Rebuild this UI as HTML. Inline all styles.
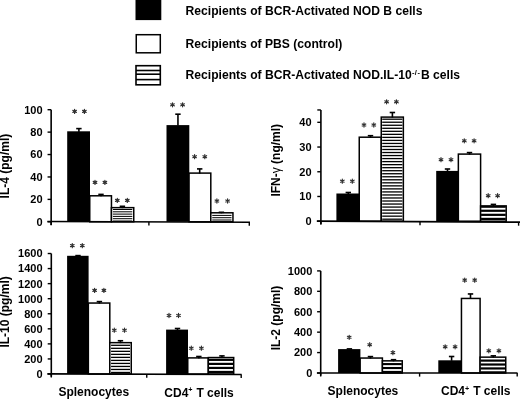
<!DOCTYPE html>
<html><head><meta charset="utf-8"><style>
html,body{margin:0;padding:0;background:#fff;}
svg{display:block;font-family:"Liberation Sans", sans-serif;will-change:transform;}
</style></head><body>
<svg width="520" height="399" viewBox="0 0 520 399">
<rect width="520" height="399" fill="#fff"/>
<rect x="135.50" y="0.00" width="25.80" height="20.10" fill="#000"/>
<rect x="136.25" y="34.7" width="24.05" height="18.1" fill="#fff" stroke="#000" stroke-width="1.5"/>
<rect x="136.0" y="65.7" width="24.3" height="19.1" fill="#fff" stroke="#000" stroke-width="1.6"/>
<line x1="136.0" y1="70.5" x2="160.3" y2="70.5" stroke="#000" stroke-width="1.6"/>
<line x1="136.0" y1="74.2" x2="160.3" y2="74.2" stroke="#000" stroke-width="1.6"/>
<line x1="136.0" y1="79.6" x2="160.3" y2="79.6" stroke="#000" stroke-width="1.6"/>
<g transform="translate(185.6,0.7) scale(1.01,1)">
<text x="0" y="14.1" font-size="12" font-weight="bold" text-anchor="start" >Recipients of BCR-Activated NOD B cells</text>
<text x="0" y="47.7" font-size="12" font-weight="bold" text-anchor="start" >Recipients of PBS (control)</text>
<text x="0" y="78.2" font-size="12" font-weight="bold" text-anchor="start" >Recipients of BCR-Activated NOD.IL-10<tspan font-size="7.4" letter-spacing="0.45" dx="0.3" dy="-3.9">-/-</tspan><tspan dx="-2.7" dy="3.9"> B cells</tspan></text>
</g>
<line x1="51.15" y1="109.70000000000002" x2="51.15" y2="225.3" stroke="#000" stroke-width="1.6"/>
<line x1="47.55" y1="109.70000000000002" x2="51.15" y2="109.70000000000002" stroke="#000" stroke-width="1.4"/>
<text x="42.6" y="113.60000000000002" font-size="11" font-weight="bold" text-anchor="end" >100</text>
<line x1="47.55" y1="132.12" x2="51.15" y2="132.12" stroke="#000" stroke-width="1.4"/>
<text x="42.6" y="136.02" font-size="11" font-weight="bold" text-anchor="end" >80</text>
<line x1="47.55" y1="154.54000000000002" x2="51.15" y2="154.54000000000002" stroke="#000" stroke-width="1.4"/>
<text x="42.6" y="158.44000000000003" font-size="11" font-weight="bold" text-anchor="end" >60</text>
<line x1="47.55" y1="176.96" x2="51.15" y2="176.96" stroke="#000" stroke-width="1.4"/>
<text x="42.6" y="180.86" font-size="11" font-weight="bold" text-anchor="end" >40</text>
<line x1="47.55" y1="199.38" x2="51.15" y2="199.38" stroke="#000" stroke-width="1.4"/>
<text x="42.6" y="203.28" font-size="11" font-weight="bold" text-anchor="end" >20</text>
<line x1="47.55" y1="221.8" x2="51.15" y2="221.8" stroke="#000" stroke-width="1.4"/>
<text x="42.6" y="225.70000000000002" font-size="11" font-weight="bold" text-anchor="end" >0</text>
<text transform="translate(9.3,166.1) rotate(-90)" font-size="12" font-weight="bold" text-anchor="middle">IL-4 (pg/ml)</text>
<rect x="67.20" y="131.30" width="22.80" height="90.50" fill="#000"/>
<rect x="78.10" y="128.60" width="1.60" height="3.30" fill="#000"/>
<rect x="76.20" y="127.80" width="5.40" height="1.60" fill="#000"/>
<rect x="89.75" y="195.80" width="21.70" height="26.00" fill="#fff" stroke="#000" stroke-width="1.5"/>
<rect x="100.20" y="194.40" width="1.60" height="1.90" fill="#000"/>
<rect x="98.30" y="193.60" width="5.40" height="1.60" fill="#000"/>
<rect x="111.45" y="207.65" width="22.30" height="14.15" fill="#fff" stroke="#000" stroke-width="1.5"/>
<rect x="112.90" y="209.00" width="19.40" height="1.00" fill="#000"/>
<rect x="112.90" y="211.30" width="19.40" height="1.00" fill="#000"/>
<rect x="112.90" y="213.60" width="19.40" height="1.00" fill="#000"/>
<rect x="112.90" y="215.90" width="19.40" height="1.00" fill="#000"/>
<rect x="112.90" y="218.20" width="19.40" height="1.00" fill="#000"/>
<rect x="112.90" y="220.50" width="19.40" height="1.00" fill="#000"/>
<rect x="121.60" y="206.30" width="1.60" height="1.85" fill="#000"/>
<rect x="119.70" y="205.50" width="5.40" height="1.60" fill="#000"/>
<rect x="166.50" y="125.10" width="22.80" height="96.70" fill="#000"/>
<rect x="177.15" y="114.20" width="1.60" height="11.40" fill="#000"/>
<rect x="175.25" y="113.40" width="5.40" height="1.60" fill="#000"/>
<rect x="189.05" y="173.10" width="21.75" height="48.70" fill="#fff" stroke="#000" stroke-width="1.5"/>
<rect x="198.90" y="168.90" width="1.60" height="4.70" fill="#000"/>
<rect x="197.00" y="168.10" width="5.40" height="1.60" fill="#000"/>
<rect x="210.80" y="212.80" width="22.15" height="9.00" fill="#fff" stroke="#000" stroke-width="1.5"/>
<rect x="212.25" y="214.90" width="19.25" height="1.00" fill="#000"/>
<rect x="212.25" y="217.20" width="19.25" height="1.00" fill="#000"/>
<rect x="212.25" y="219.50" width="19.25" height="1.00" fill="#000"/>
<rect x="220.60" y="212.30" width="1.60" height="1.00" fill="#000"/>
<rect x="218.70" y="211.50" width="5.40" height="1.60" fill="#000"/>
<path d="M74.60 109.35L74.60 113.45M72.82 110.38L76.38 112.43M72.82 112.43L76.38 110.38" stroke="#303030" stroke-width="1.2" stroke-linecap="round"/>
<path d="M84.40 109.35L84.40 113.45M82.62 110.38L86.18 112.43M82.62 112.43L86.18 110.38" stroke="#303030" stroke-width="1.2" stroke-linecap="round"/>
<path d="M95.00 180.35L95.00 184.45M93.22 181.38L96.78 183.43M93.22 183.43L96.78 181.38" stroke="#303030" stroke-width="1.2" stroke-linecap="round"/>
<path d="M104.90 180.35L104.90 184.45M103.12 181.38L106.68 183.43M103.12 183.43L106.68 181.38" stroke="#303030" stroke-width="1.2" stroke-linecap="round"/>
<path d="M117.30 198.35L117.30 202.45M115.52 199.38L119.08 201.43M115.52 201.43L119.08 199.38" stroke="#303030" stroke-width="1.2" stroke-linecap="round"/>
<path d="M127.30 198.35L127.30 202.45M125.52 199.38L129.08 201.43M125.52 201.43L129.08 199.38" stroke="#303030" stroke-width="1.2" stroke-linecap="round"/>
<path d="M172.50 102.75L172.50 106.85M170.72 103.77L174.28 105.83M170.72 105.83L174.28 103.77" stroke="#303030" stroke-width="1.2" stroke-linecap="round"/>
<path d="M182.60 102.75L182.60 106.85M180.82 103.77L184.38 105.83M180.82 105.83L184.38 103.77" stroke="#303030" stroke-width="1.2" stroke-linecap="round"/>
<path d="M194.60 154.65L194.60 158.75M192.82 155.67L196.38 157.72M192.82 157.72L196.38 155.67" stroke="#303030" stroke-width="1.2" stroke-linecap="round"/>
<path d="M204.80 154.65L204.80 158.75M203.02 155.67L206.58 157.72M203.02 157.72L206.58 155.67" stroke="#303030" stroke-width="1.2" stroke-linecap="round"/>
<path d="M216.90 198.95L216.90 203.05M215.12 199.97L218.68 202.03M215.12 202.03L218.68 199.97" stroke="#303030" stroke-width="1.2" stroke-linecap="round"/>
<path d="M227.60 198.95L227.60 203.05M225.82 199.97L229.38 202.03M225.82 202.03L229.38 199.97" stroke="#303030" stroke-width="1.2" stroke-linecap="round"/>
<line x1="47.4" y1="221.5" x2="250.0" y2="222.25" stroke="#000" stroke-width="1.7"/>
<line x1="51.15" y1="221.51388203356368" x2="51.15" y2="225.11388203356367" stroke="#000" stroke-width="1.4"/>
<line x1="148.9" y1="221.8757403751234" x2="148.9" y2="225.4757403751234" stroke="#000" stroke-width="1.4"/>
<line x1="249.3" y1="222.24740868706812" x2="249.3" y2="225.8474086870681" stroke="#000" stroke-width="1.4"/>
<line x1="320.9" y1="109.96" x2="320.9" y2="224.0" stroke="#000" stroke-width="1.6"/>
<line x1="317.29999999999995" y1="109.96" x2="320.9" y2="109.96" stroke="#000" stroke-width="1.4"/>
<line x1="317.29999999999995" y1="122.32" x2="320.9" y2="122.32" stroke="#000" stroke-width="1.4"/>
<text x="311.6" y="126.22" font-size="11" font-weight="bold" text-anchor="end" >40</text>
<line x1="317.29999999999995" y1="147.04" x2="320.9" y2="147.04" stroke="#000" stroke-width="1.4"/>
<text x="311.6" y="150.94" font-size="11" font-weight="bold" text-anchor="end" >30</text>
<line x1="317.29999999999995" y1="171.76" x2="320.9" y2="171.76" stroke="#000" stroke-width="1.4"/>
<text x="311.6" y="175.66" font-size="11" font-weight="bold" text-anchor="end" >20</text>
<line x1="317.29999999999995" y1="196.48" x2="320.9" y2="196.48" stroke="#000" stroke-width="1.4"/>
<text x="311.6" y="200.38" font-size="11" font-weight="bold" text-anchor="end" >10</text>
<line x1="317.29999999999995" y1="221.2" x2="320.9" y2="221.2" stroke="#000" stroke-width="1.4"/>
<text x="311.6" y="225.1" font-size="11" font-weight="bold" text-anchor="end" >0</text>
<text transform="translate(279.9,160.25) rotate(-90)" font-size="12" font-weight="bold" text-anchor="middle">IFN-<tspan font-weight="normal">γ</tspan> (ng/ml)</text>
<rect x="336.40" y="193.50" width="23.10" height="27.70" fill="#000"/>
<rect x="347.50" y="192.50" width="1.60" height="1.50" fill="#000"/>
<rect x="345.60" y="191.70" width="5.40" height="1.60" fill="#000"/>
<rect x="359.25" y="137.20" width="22.00" height="84.00" fill="#fff" stroke="#000" stroke-width="1.5"/>
<rect x="369.70" y="135.70" width="1.60" height="2.00" fill="#000"/>
<rect x="367.80" y="134.90" width="5.40" height="1.60" fill="#000"/>
<rect x="381.25" y="117.10" width="22.10" height="104.10" fill="#fff" stroke="#000" stroke-width="1.5"/>
<rect x="382.20" y="118.55" width="20.20" height="1.30" fill="#000"/>
<rect x="382.20" y="121.58" width="20.20" height="1.30" fill="#000"/>
<rect x="382.20" y="124.61" width="20.20" height="1.30" fill="#000"/>
<rect x="382.20" y="127.64" width="20.20" height="1.30" fill="#000"/>
<rect x="382.20" y="130.67" width="20.20" height="1.30" fill="#000"/>
<rect x="382.20" y="133.70" width="20.20" height="1.30" fill="#000"/>
<rect x="382.20" y="136.73" width="20.20" height="1.30" fill="#000"/>
<rect x="382.20" y="139.76" width="20.20" height="1.30" fill="#000"/>
<rect x="382.20" y="142.79" width="20.20" height="1.30" fill="#000"/>
<rect x="382.20" y="145.82" width="20.20" height="1.30" fill="#000"/>
<rect x="382.20" y="148.85" width="20.20" height="1.30" fill="#000"/>
<rect x="382.20" y="151.88" width="20.20" height="1.30" fill="#000"/>
<rect x="382.20" y="154.91" width="20.20" height="1.30" fill="#000"/>
<rect x="382.20" y="157.94" width="20.20" height="1.30" fill="#000"/>
<rect x="382.20" y="160.97" width="20.20" height="1.30" fill="#000"/>
<rect x="382.20" y="164.00" width="20.20" height="1.30" fill="#000"/>
<rect x="382.20" y="167.03" width="20.20" height="1.30" fill="#000"/>
<rect x="382.20" y="170.06" width="20.20" height="1.30" fill="#000"/>
<rect x="382.20" y="173.09" width="20.20" height="1.30" fill="#000"/>
<rect x="382.20" y="176.12" width="20.20" height="1.30" fill="#000"/>
<rect x="382.20" y="179.15" width="20.20" height="1.30" fill="#000"/>
<rect x="382.20" y="182.18" width="20.20" height="1.30" fill="#000"/>
<rect x="382.20" y="185.21" width="20.20" height="1.30" fill="#000"/>
<rect x="382.20" y="188.24" width="20.20" height="1.30" fill="#000"/>
<rect x="382.20" y="191.27" width="20.20" height="1.30" fill="#000"/>
<rect x="382.20" y="194.30" width="20.20" height="1.30" fill="#000"/>
<rect x="382.20" y="197.33" width="20.20" height="1.30" fill="#000"/>
<rect x="382.20" y="200.36" width="20.20" height="1.30" fill="#000"/>
<rect x="382.20" y="203.39" width="20.20" height="1.30" fill="#000"/>
<rect x="382.20" y="206.42" width="20.20" height="1.30" fill="#000"/>
<rect x="382.20" y="209.45" width="20.20" height="1.30" fill="#000"/>
<rect x="382.20" y="212.48" width="20.20" height="1.30" fill="#000"/>
<rect x="382.20" y="215.51" width="20.20" height="1.30" fill="#000"/>
<rect x="382.20" y="218.54" width="20.20" height="1.30" fill="#000"/>
<rect x="391.60" y="112.50" width="1.60" height="5.10" fill="#000"/>
<rect x="389.70" y="111.70" width="5.40" height="1.60" fill="#000"/>
<rect x="436.20" y="170.90" width="22.40" height="50.30" fill="#000"/>
<rect x="446.70" y="169.00" width="1.60" height="2.40" fill="#000"/>
<rect x="444.80" y="168.20" width="5.40" height="1.60" fill="#000"/>
<rect x="458.35" y="154.10" width="22.25" height="67.10" fill="#fff" stroke="#000" stroke-width="1.5"/>
<rect x="468.70" y="152.60" width="1.60" height="2.00" fill="#000"/>
<rect x="466.80" y="151.80" width="5.40" height="1.60" fill="#000"/>
<rect x="480.60" y="205.90" width="25.60" height="15.30" fill="#fff" stroke="#000" stroke-width="1.5"/>
<rect x="481.05" y="205.90" width="24.70" height="1.90" fill="#000"/>
<rect x="481.05" y="209.67" width="24.70" height="2.20" fill="#000"/>
<rect x="481.05" y="213.74" width="24.70" height="2.20" fill="#000"/>
<rect x="481.05" y="217.81" width="24.70" height="2.20" fill="#000"/>
<rect x="492.60" y="204.40" width="1.60" height="2.00" fill="#000"/>
<rect x="490.70" y="203.60" width="5.40" height="1.60" fill="#000"/>
<path d="M342.30 179.15L342.30 183.25M340.52 180.17L344.08 182.22M340.52 182.22L344.08 180.17" stroke="#303030" stroke-width="1.2" stroke-linecap="round"/>
<path d="M352.30 179.15L352.30 183.25M350.52 180.17L354.08 182.22M350.52 182.22L354.08 180.17" stroke="#303030" stroke-width="1.2" stroke-linecap="round"/>
<path d="M364.00 122.95L364.00 127.05M362.22 123.97L365.78 126.03M362.22 126.03L365.78 123.97" stroke="#303030" stroke-width="1.2" stroke-linecap="round"/>
<path d="M373.80 122.95L373.80 127.05M372.02 123.97L375.58 126.03M372.02 126.03L375.58 123.97" stroke="#303030" stroke-width="1.2" stroke-linecap="round"/>
<path d="M386.60 99.75L386.60 103.85M384.82 100.77L388.38 102.83M384.82 102.83L388.38 100.77" stroke="#303030" stroke-width="1.2" stroke-linecap="round"/>
<path d="M396.40 99.75L396.40 103.85M394.62 100.77L398.18 102.83M394.62 102.83L398.18 100.77" stroke="#303030" stroke-width="1.2" stroke-linecap="round"/>
<path d="M441.00 157.65L441.00 161.75M439.22 158.67L442.78 160.72M439.22 160.72L442.78 158.67" stroke="#303030" stroke-width="1.2" stroke-linecap="round"/>
<path d="M451.00 157.65L451.00 161.75M449.22 158.67L452.78 160.72M449.22 160.72L452.78 158.67" stroke="#303030" stroke-width="1.2" stroke-linecap="round"/>
<path d="M464.30 138.75L464.30 142.85M462.52 139.78L466.08 141.83M462.52 141.83L466.08 139.78" stroke="#303030" stroke-width="1.2" stroke-linecap="round"/>
<path d="M474.10 138.75L474.10 142.85M472.32 139.78L475.88 141.83M472.32 141.83L475.88 139.78" stroke="#303030" stroke-width="1.2" stroke-linecap="round"/>
<path d="M488.20 193.65L488.20 197.75M486.42 194.67L489.98 196.72M486.42 196.72L489.98 194.67" stroke="#303030" stroke-width="1.2" stroke-linecap="round"/>
<path d="M497.60 193.65L497.60 197.75M495.82 194.67L499.38 196.72M495.82 196.72L499.38 194.67" stroke="#303030" stroke-width="1.2" stroke-linecap="round"/>
<line x1="316.8" y1="221.2" x2="520.0" y2="222.1" stroke="#000" stroke-width="1.7"/>
<line x1="320.9" y1="221.21815944881888" x2="320.9" y2="224.81815944881888" stroke="#000" stroke-width="1.4"/>
<line x1="420.0" y1="221.6570866141732" x2="420.0" y2="225.2570866141732" stroke="#000" stroke-width="1.4"/>
<line x1="518.6" y1="222.0937992125984" x2="518.6" y2="225.6937992125984" stroke="#000" stroke-width="1.4"/>
<line x1="51.3" y1="253.51999999999998" x2="51.3" y2="376.6" stroke="#000" stroke-width="1.6"/>
<line x1="47.699999999999996" y1="253.51999999999998" x2="51.3" y2="253.51999999999998" stroke="#000" stroke-width="1.4"/>
<text x="42.6" y="257.41999999999996" font-size="11" font-weight="bold" text-anchor="end" >1600</text>
<line x1="47.699999999999996" y1="268.58" x2="51.3" y2="268.58" stroke="#000" stroke-width="1.4"/>
<text x="42.6" y="272.47999999999996" font-size="11" font-weight="bold" text-anchor="end" >1400</text>
<line x1="47.699999999999996" y1="283.64" x2="51.3" y2="283.64" stroke="#000" stroke-width="1.4"/>
<text x="42.6" y="287.53999999999996" font-size="11" font-weight="bold" text-anchor="end" >1200</text>
<line x1="47.699999999999996" y1="298.7" x2="51.3" y2="298.7" stroke="#000" stroke-width="1.4"/>
<text x="42.6" y="302.59999999999997" font-size="11" font-weight="bold" text-anchor="end" >1000</text>
<line x1="47.699999999999996" y1="313.76" x2="51.3" y2="313.76" stroke="#000" stroke-width="1.4"/>
<text x="42.6" y="317.65999999999997" font-size="11" font-weight="bold" text-anchor="end" >800</text>
<line x1="47.699999999999996" y1="328.82" x2="51.3" y2="328.82" stroke="#000" stroke-width="1.4"/>
<text x="42.6" y="332.71999999999997" font-size="11" font-weight="bold" text-anchor="end" >600</text>
<line x1="47.699999999999996" y1="343.88" x2="51.3" y2="343.88" stroke="#000" stroke-width="1.4"/>
<text x="42.6" y="347.78" font-size="11" font-weight="bold" text-anchor="end" >400</text>
<line x1="47.699999999999996" y1="358.94" x2="51.3" y2="358.94" stroke="#000" stroke-width="1.4"/>
<text x="42.6" y="362.84" font-size="11" font-weight="bold" text-anchor="end" >200</text>
<line x1="47.699999999999996" y1="374.0" x2="51.3" y2="374.0" stroke="#000" stroke-width="1.4"/>
<text x="42.6" y="377.9" font-size="11" font-weight="bold" text-anchor="end" >0</text>
<text transform="translate(8.9,311.9) rotate(-90)" font-size="12" font-weight="bold" text-anchor="middle">IL-10 (pg/ml)</text>
<rect x="67.10" y="255.80" width="21.50" height="118.20" fill="#000"/>
<rect x="75.30" y="254.80" width="5.40" height="1.60" fill="#000"/>
<rect x="88.35" y="303.05" width="21.45" height="70.95" fill="#fff" stroke="#000" stroke-width="1.5"/>
<rect x="98.60" y="301.60" width="1.60" height="1.95" fill="#000"/>
<rect x="96.70" y="300.80" width="5.40" height="1.60" fill="#000"/>
<rect x="109.80" y="342.65" width="21.45" height="31.35" fill="#fff" stroke="#000" stroke-width="1.5"/>
<rect x="111.05" y="344.65" width="18.95" height="1.30" fill="#000"/>
<rect x="111.05" y="347.67" width="18.95" height="1.30" fill="#000"/>
<rect x="111.05" y="350.69" width="18.95" height="1.30" fill="#000"/>
<rect x="111.05" y="353.71" width="18.95" height="1.30" fill="#000"/>
<rect x="111.05" y="356.73" width="18.95" height="1.30" fill="#000"/>
<rect x="111.05" y="359.75" width="18.95" height="1.30" fill="#000"/>
<rect x="111.05" y="362.77" width="18.95" height="1.30" fill="#000"/>
<rect x="111.05" y="365.79" width="18.95" height="1.30" fill="#000"/>
<rect x="111.05" y="368.81" width="18.95" height="1.30" fill="#000"/>
<rect x="111.05" y="371.83" width="18.95" height="1.30" fill="#000"/>
<rect x="119.65" y="340.75" width="1.60" height="2.40" fill="#000"/>
<rect x="117.75" y="339.95" width="5.40" height="1.60" fill="#000"/>
<rect x="166.10" y="329.60" width="21.90" height="44.40" fill="#000"/>
<rect x="176.70" y="328.50" width="1.60" height="1.60" fill="#000"/>
<rect x="174.80" y="327.70" width="5.40" height="1.60" fill="#000"/>
<rect x="187.75" y="357.90" width="20.55" height="16.10" fill="#fff" stroke="#000" stroke-width="1.5"/>
<rect x="198.05" y="356.50" width="1.60" height="1.90" fill="#000"/>
<rect x="196.15" y="355.70" width="5.40" height="1.60" fill="#000"/>
<rect x="208.30" y="357.55" width="25.40" height="16.45" fill="#fff" stroke="#000" stroke-width="1.5"/>
<rect x="208.75" y="358.75" width="24.50" height="2.20" fill="#000"/>
<rect x="208.75" y="362.79" width="24.50" height="2.20" fill="#000"/>
<rect x="208.75" y="366.83" width="24.50" height="2.20" fill="#000"/>
<rect x="208.75" y="370.87" width="24.50" height="2.20" fill="#000"/>
<rect x="221.15" y="355.90" width="1.60" height="2.15" fill="#000"/>
<rect x="219.25" y="355.10" width="5.40" height="1.60" fill="#000"/>
<path d="M72.30 243.55L72.30 247.65M70.52 244.57L74.08 246.62M70.52 246.62L74.08 244.57" stroke="#303030" stroke-width="1.2" stroke-linecap="round"/>
<path d="M82.30 243.55L82.30 247.65M80.52 244.57L84.08 246.62M80.52 246.62L84.08 244.57" stroke="#303030" stroke-width="1.2" stroke-linecap="round"/>
<path d="M94.60 288.35L94.60 292.45M92.82 289.38L96.38 291.42M92.82 291.42L96.38 289.38" stroke="#303030" stroke-width="1.2" stroke-linecap="round"/>
<path d="M103.90 288.35L103.90 292.45M102.12 289.38L105.68 291.42M102.12 291.42L105.68 289.38" stroke="#303030" stroke-width="1.2" stroke-linecap="round"/>
<path d="M114.30 328.15L114.30 332.25M112.52 329.18L116.08 331.22M112.52 331.22L116.08 329.18" stroke="#303030" stroke-width="1.2" stroke-linecap="round"/>
<path d="M124.50 328.15L124.50 332.25M122.72 329.18L126.28 331.22M122.72 331.22L126.28 329.18" stroke="#303030" stroke-width="1.2" stroke-linecap="round"/>
<path d="M169.00 313.45L169.00 317.55M167.22 314.48L170.78 316.52M167.22 316.52L170.78 314.48" stroke="#303030" stroke-width="1.2" stroke-linecap="round"/>
<path d="M178.50 313.45L178.50 317.55M176.72 314.48L180.28 316.52M176.72 316.52L180.28 314.48" stroke="#303030" stroke-width="1.2" stroke-linecap="round"/>
<path d="M191.30 346.15L191.30 350.25M189.52 347.18L193.08 349.22M189.52 349.22L193.08 347.18" stroke="#303030" stroke-width="1.2" stroke-linecap="round"/>
<path d="M201.40 346.15L201.40 350.25M199.62 347.18L203.18 349.22M199.62 349.22L203.18 347.18" stroke="#303030" stroke-width="1.2" stroke-linecap="round"/>
<line x1="47.4" y1="373.95" x2="241.6" y2="374.5" stroke="#000" stroke-width="1.7"/>
<line x1="51.3" y1="373.9610453141091" x2="51.3" y2="377.56104531410915" stroke="#000" stroke-width="1.4"/>
<line x1="146.75" y1="374.2313722966014" x2="146.75" y2="377.83137229660144" stroke="#000" stroke-width="1.4"/>
<line x1="241.2" y1="374.49886714727086" x2="241.2" y2="378.0988671472709" stroke="#000" stroke-width="1.4"/>
<text x="58.4" y="396.0" font-size="12" font-weight="bold" text-anchor="start" >Splenocytes</text>
<text x="164.3" y="396.6" font-size="12" font-weight="bold" text-anchor="start" >CD4<tspan font-size="7.2" dy="-4.2">+</tspan><tspan dx="0.6" dy="4.2"> T cells</tspan></text>
<line x1="320.7" y1="270.9" x2="320.7" y2="375.6" stroke="#000" stroke-width="1.6"/>
<line x1="317.09999999999997" y1="270.9" x2="320.7" y2="270.9" stroke="#000" stroke-width="1.4"/>
<text x="312.3" y="274.79999999999995" font-size="11" font-weight="bold" text-anchor="end" >1000</text>
<line x1="317.09999999999997" y1="291.32" x2="320.7" y2="291.32" stroke="#000" stroke-width="1.4"/>
<text x="312.3" y="295.21999999999997" font-size="11" font-weight="bold" text-anchor="end" >800</text>
<line x1="317.09999999999997" y1="311.74" x2="320.7" y2="311.74" stroke="#000" stroke-width="1.4"/>
<text x="312.3" y="315.64" font-size="11" font-weight="bold" text-anchor="end" >600</text>
<line x1="317.09999999999997" y1="332.15999999999997" x2="320.7" y2="332.15999999999997" stroke="#000" stroke-width="1.4"/>
<text x="312.3" y="336.05999999999995" font-size="11" font-weight="bold" text-anchor="end" >400</text>
<line x1="317.09999999999997" y1="352.58" x2="320.7" y2="352.58" stroke="#000" stroke-width="1.4"/>
<text x="312.3" y="356.47999999999996" font-size="11" font-weight="bold" text-anchor="end" >200</text>
<line x1="317.09999999999997" y1="373.0" x2="320.7" y2="373.0" stroke="#000" stroke-width="1.4"/>
<text x="312.3" y="376.9" font-size="11" font-weight="bold" text-anchor="end" >0</text>
<text transform="translate(280.1,318.0) rotate(-90)" font-size="12" font-weight="bold" text-anchor="middle">IL-2 (pg/ml)</text>
<rect x="338.10" y="349.10" width="22.30" height="23.90" fill="#000"/>
<rect x="346.70" y="348.10" width="5.40" height="1.60" fill="#000"/>
<rect x="360.15" y="358.05" width="22.25" height="14.95" fill="#fff" stroke="#000" stroke-width="1.5"/>
<rect x="369.65" y="356.60" width="1.60" height="1.95" fill="#000"/>
<rect x="367.75" y="355.80" width="5.40" height="1.60" fill="#000"/>
<rect x="382.40" y="360.85" width="19.85" height="12.15" fill="#fff" stroke="#000" stroke-width="1.5"/>
<rect x="382.85" y="363.05" width="18.95" height="2.10" fill="#000"/>
<rect x="382.85" y="366.98" width="18.95" height="2.10" fill="#000"/>
<rect x="382.85" y="370.91" width="18.95" height="2.09" fill="#000"/>
<rect x="392.70" y="359.70" width="1.60" height="1.65" fill="#000"/>
<rect x="390.80" y="358.90" width="5.40" height="1.60" fill="#000"/>
<rect x="438.30" y="360.30" width="23.40" height="12.70" fill="#000"/>
<rect x="450.80" y="356.50" width="1.60" height="4.30" fill="#000"/>
<rect x="448.90" y="355.70" width="5.40" height="1.60" fill="#000"/>
<rect x="461.45" y="298.45" width="18.65" height="74.55" fill="#fff" stroke="#000" stroke-width="1.5"/>
<rect x="469.70" y="293.95" width="1.60" height="5.00" fill="#000"/>
<rect x="467.80" y="293.15" width="5.40" height="1.60" fill="#000"/>
<rect x="480.10" y="357.15" width="25.65" height="15.85" fill="#fff" stroke="#000" stroke-width="1.5"/>
<rect x="480.55" y="359.50" width="24.75" height="2.20" fill="#000"/>
<rect x="480.55" y="363.42" width="24.75" height="2.20" fill="#000"/>
<rect x="480.55" y="367.34" width="24.75" height="2.20" fill="#000"/>
<rect x="480.55" y="371.26" width="24.75" height="1.74" fill="#000"/>
<rect x="492.50" y="355.85" width="1.60" height="1.80" fill="#000"/>
<rect x="490.60" y="355.05" width="5.40" height="1.60" fill="#000"/>
<path d="M349.20 335.25L349.20 339.35M347.42 336.28L350.98 338.32M347.42 338.32L350.98 336.28" stroke="#303030" stroke-width="1.2" stroke-linecap="round"/>
<path d="M369.70 342.65L369.70 346.75M367.92 343.68L371.48 345.72M367.92 345.72L371.48 343.68" stroke="#303030" stroke-width="1.2" stroke-linecap="round"/>
<path d="M392.90 350.55L392.90 354.65M391.12 351.58L394.68 353.62M391.12 353.62L394.68 351.58" stroke="#303030" stroke-width="1.2" stroke-linecap="round"/>
<path d="M445.20 344.75L445.20 348.85M443.42 345.78L446.98 347.82M443.42 347.82L446.98 345.78" stroke="#303030" stroke-width="1.2" stroke-linecap="round"/>
<path d="M455.10 344.75L455.10 348.85M453.32 345.78L456.88 347.82M453.32 347.82L456.88 345.78" stroke="#303030" stroke-width="1.2" stroke-linecap="round"/>
<path d="M464.70 278.05L464.70 282.15M462.92 279.08L466.48 281.12M462.92 281.12L466.48 279.08" stroke="#303030" stroke-width="1.2" stroke-linecap="round"/>
<path d="M474.70 278.05L474.70 282.15M472.92 279.08L476.48 281.12M472.92 281.12L476.48 279.08" stroke="#303030" stroke-width="1.2" stroke-linecap="round"/>
<path d="M488.80 348.75L488.80 352.85M487.02 349.78L490.58 351.82M487.02 351.82L490.58 349.78" stroke="#303030" stroke-width="1.2" stroke-linecap="round"/>
<path d="M498.90 348.75L498.90 352.85M497.12 349.78L500.68 351.82M497.12 351.82L500.68 349.78" stroke="#303030" stroke-width="1.2" stroke-linecap="round"/>
<line x1="316.9" y1="373.0" x2="517.5" y2="373.0" stroke="#000" stroke-width="1.7"/>
<line x1="320.7" y1="373.0" x2="320.7" y2="376.6" stroke="#000" stroke-width="1.4"/>
<line x1="419.6" y1="373.0" x2="419.6" y2="376.6" stroke="#000" stroke-width="1.4"/>
<line x1="517.2" y1="373.0" x2="517.2" y2="376.6" stroke="#000" stroke-width="1.4"/>
<text x="327.6" y="394.5" font-size="12" font-weight="bold" text-anchor="start" >Splenocytes</text>
<text x="441.0" y="394.9" font-size="12" font-weight="bold" text-anchor="start" >CD4<tspan font-size="7.2" dy="-4.2">+</tspan><tspan dx="0.6" dy="4.2"> T cells</tspan></text>
</svg>
</body></html>
